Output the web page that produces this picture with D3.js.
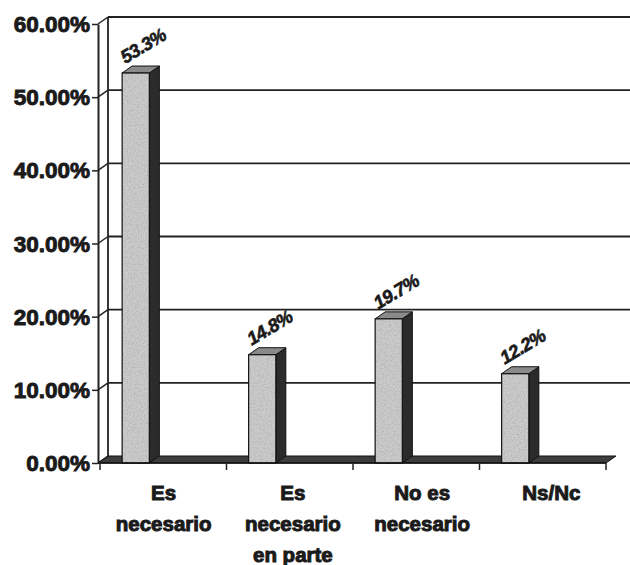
<!DOCTYPE html>
<html>
<head>
<meta charset="utf-8">
<script src="https://cdn.jsdelivr.net/npm/d3@7"></script>
<style>
  html, body { margin: 0; padding: 0; background: #fff; }
  svg { display: block; }
  text { font-family: "Liberation Sans", Arial, sans-serif; font-weight: bold; fill: #1a1a1a; }
</style>
</head>
<body>
<svg id="chart" width="630" height="565"></svg>
<script>
// Survey answers and their shares
const categories = ["Es necesario", "Es necesario en parte", "No es necesario", "Ns/Nc"];
const categoryLines = [["Es", "necesario"], ["Es", "necesario", "en parte"], ["No es", "necesario"], ["Ns/Nc"]];
const shares = [0.533, 0.148, 0.197, 0.122];
const yTicks = [0, 0.1, 0.2, 0.3, 0.4, 0.5, 0.6];

const svg = d3.select("#chart");
const W = 630;

// depth offset of the 3-D box (back plane relative to the front plane)
const DX = 10, DY = -7;

const y = d3.scaleLinear().domain([0, 0.6]).range([463, 24]);
const x = d3.scaleBand().domain(categories).range([100, 606]);
const xLabel = d3.scaleBand().domain(categories).range([99, 616]);
const axisX = 98;

// grain texture for the bar fronts
const defs = svg.append("defs");
const f = defs.append("filter").attr("id", "grain").attr("x", 0).attr("y", 0).attr("width", 1).attr("height", 1);
f.append("feTurbulence").attr("type", "fractalNoise").attr("baseFrequency", 0.7).attr("numOctaves", 2).attr("seed", 3).attr("result", "noise");
f.append("feColorMatrix").attr("in", "noise").attr("type", "matrix")
  .attr("values", "0 0 0 0 0.45  0 0 0 0 0.45  0 0 0 0 0.45  0 0 0 2.6 -1.1").attr("result", "dots");
f.append("feComposite").attr("in", "dots").attr("in2", "SourceGraphic").attr("operator", "in").attr("result", "dotsIn");
f.append("feMerge").selectAll("feMergeNode").data(["SourceGraphic", "dotsIn"]).join("feMergeNode").attr("in", d => d);

// back-wall gridlines
svg.append("g").selectAll("line").data(yTicks.filter(d => d > 0)).join("line")
  .attr("x1", axisX + DX).attr("x2", W)
  .attr("y1", d => y(d) + DY).attr("y2", d => y(d) + DY)
  .attr("stroke", "#222").attr("stroke-width", 1.8);

// left wall: back edge and diagonal tick connectors
svg.append("line").attr("x1", axisX + DX).attr("x2", axisX + DX)
  .attr("y1", y(0.6) + DY).attr("y2", y(0) + DY).attr("stroke", "#222").attr("stroke-width", 1.8);
svg.append("g").selectAll("line").data(yTicks).join("line")
  .attr("x1", axisX).attr("y1", d => y(d))
  .attr("x2", axisX + DX).attr("y2", d => y(d) + DY)
  .attr("stroke", "#222").attr("stroke-width", 1.5);

// floor
const x1 = x.range()[1];
svg.append("polygon")
  .attr("points", [[axisX, y(0)], [x1, y(0)], [x1 + DX, y(0) + DY], [axisX + DX, y(0) + DY]].join(" "))
  .attr("fill", "#3d3d3d").attr("stroke", "#111").attr("stroke-width", 1);

// bars
const bw = x.bandwidth();
const barOff = bw * 0.175, barW = bw * 0.215;
const bars = svg.append("g").selectAll("g").data(categories).join("g");
bars.append("polygon") // side
  .attr("points", (c, i) => {
    const bx = x(c) + barOff + barW, yt = y(shares[i]), yb = y(0);
    return [[bx, yt], [bx + DX, yt + DY], [bx + DX, yb + DY], [bx, yb]].join(" ");
  })
  .attr("fill", "#2b2b2b").attr("stroke", "#111").attr("stroke-width", 1);
bars.append("polygon") // top
  .attr("points", (c, i) => {
    const bx = x(c) + barOff, yt = y(shares[i]);
    return [[bx, yt], [bx + DX, yt + DY], [bx + barW + DX, yt + DY], [bx + barW, yt]].join(" ");
  })
  .attr("fill", "#8a8a8a").attr("stroke", "#111").attr("stroke-width", 1);
bars.append("rect") // front
  .attr("x", c => x(c) + barOff)
  .attr("y", (c, i) => y(shares[i]))
  .attr("width", barW)
  .attr("height", (c, i) => y(0) - y(shares[i]))
  .attr("fill", "#cbcbcb").attr("filter", "url(#grain)");
bars.append("rect")
  .attr("x", c => x(c) + barOff)
  .attr("y", (c, i) => y(shares[i]))
  .attr("width", barW)
  .attr("height", (c, i) => y(0) - y(shares[i]))
  .attr("fill", "none").attr("stroke", "#111").attr("stroke-width", 1.2);

// value labels, slanted
bars.append("text")
  .attr("transform", (c, i) => `translate(${x(c) + barOff + 3},${y(shares[i]) + DY - 2}) rotate(-31)`)
  .attr("font-size", 18.5).attr("font-style", "italic")
  .style("letter-spacing", "-0.6px")
  .style("stroke", "#1a1a1a").style("stroke-width", 0.6)
  .text((c, i) => d3.format(".1%")(shares[i]));

// front vertical axis
const yAxis = svg.append("g").attr("transform", `translate(${axisX},0)`)
  .call(d3.axisLeft(y).tickValues(yTicks).tickFormat(d3.format(".2%")).tickSize(6).tickSizeOuter(0).tickPadding(2));
yAxis.select(".domain").attr("stroke", "#222").attr("stroke-width", 2);
yAxis.selectAll(".tick line").attr("stroke", "#222").attr("stroke-width", 1.5);
yAxis.selectAll(".tick text").attr("font-size", 22.5).attr("font-family", "Liberation Sans, Arial, sans-serif")
  .attr("font-weight", "bold").attr("fill", "#1a1a1a").attr("dy", "0.34em")
  .style("stroke", "#1a1a1a").style("stroke-width", 0.9);

// front horizontal axis with ticks at category boundaries
svg.append("line").attr("x1", axisX).attr("x2", x1).attr("y1", y(0)).attr("y2", y(0))
  .attr("stroke", "#111").attr("stroke-width", 1.5);
const bounds = categories.map(c => x(c)).concat([x1]);
svg.append("g").selectAll("line").data(bounds).join("line")
  .attr("x1", d => d).attr("x2", d => d).attr("y1", y(0)).attr("y2", y(0) + 7)
  .attr("stroke", "#222").attr("stroke-width", 1.5);

// category labels
svg.append("g").selectAll("text").data(categories).join("text")
  .attr("text-anchor", "middle").attr("font-size", 20.5)
  .style("stroke", "#1a1a1a").style("stroke-width", 1)
  .each(function (c, i) {
    d3.select(this).selectAll("tspan").data(categoryLines[i]).join("tspan")
      .attr("x", xLabel(c) + xLabel.bandwidth() / 2)
      .attr("y", (d, j) => 500 + j * 31)
      .text(d => d);
  });
</script>
</body>
</html>
